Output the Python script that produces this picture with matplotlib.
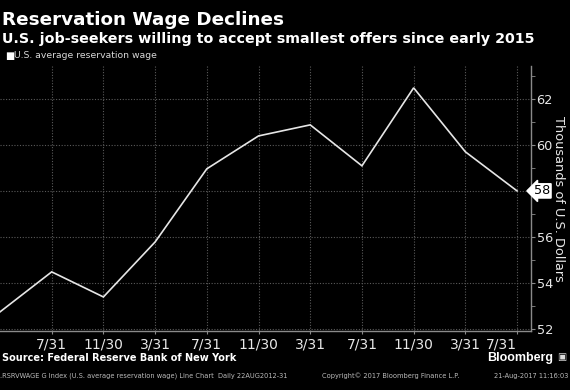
import matplotlib
matplotlib.use('Agg')
import matplotlib.pyplot as plt
from matplotlib.ticker import MultipleLocator, FixedLocator, FuncFormatter
import matplotlib.transforms as mtransforms

plt.rcParams['font.family'] = ['Liberation Sans Narrow', 'DejaVu Sans']

# survey dates (every four months) and reservation wage, thousands of USD
dates = ['2014-03-31', '2014-07-31', '2014-11-30', '2015-03-31', '2015-07-31',
         '2015-11-30', '2016-03-31', '2016-07-31', '2016-11-30', '2017-03-31',
         '2017-07-31']
wage = [52.74, 54.48, 53.39, 55.78, 58.96, 60.39, 60.87, 59.09, 62.48, 59.70, 58.00]
tick_labels = ['7/31', '11/30', '3/31', '7/31', '11/30', '3/31', '7/31', '11/30',
               '3/31', '7/31']

fg = '#e8e8e8'
grey = '#8a8a8a'
last = round(wage[-1])

fig = plt.figure(figsize=(5.7, 3.9), dpi=100, facecolor='black')
ax = fig.add_axes([0, 0.1513, 531 / 570, 0.8308 - 0.1513])
ax.set_facecolor('black')

x = list(range(len(dates)))
ax.plot(x, wage, color='#e6e6e6', lw=1.2, solid_joinstyle='miter')

ax.set_xlim(0, 10.27)
ax.set_ylim(51.91, 63.43)

# x axis
ax.xaxis.set_major_locator(FixedLocator(x[1:]))
ax.set_xticklabels(tick_labels)
for lab in ax.get_xticklabels():
    lab.set_color(fg)
    lab.set_fontsize(10)
ax.get_xticklabels()[-1].set_horizontalalignment('right')
ax.tick_params(axis='x', length=2, color=grey, pad=3)

# y axis on the right (the last value tag takes the place of its tick label)
ax.yaxis.tick_right()
ax.yaxis.set_major_locator(MultipleLocator(2))
ax.yaxis.set_minor_locator(MultipleLocator(1))
ax.yaxis.set_major_formatter(FuncFormatter(lambda v, p: '' if round(v) == last else '%d' % v))
ax.tick_params(axis='y', which='both', direction='out', length=3, color=grey,
               labelcolor=fg, labelsize=9.3, pad=1)
ax.yaxis.set_label_position('right')
ax.set_ylabel('Thousands of U.S. Dollars', rotation=270, color=fg, fontsize=9.3,
              va='center')
ax.yaxis.set_label_coords(1.052, 0.5)

ax.grid(True, which='major', color='#5a5a5a', linestyle=(0, (1, 1.5)), lw=0.8)
for s in ['left', 'top']:
    ax.spines[s].set_visible(False)
for s in ['right', 'bottom']:
    ax.spines[s].set_color(grey)
    ax.spines[s].set_linewidth(1.0)

# last value tag
trans = mtransforms.blended_transform_factory(ax.transAxes, ax.transData)
ax.text(1.006, wage[-1], '%d' % last, transform=trans, ha='left',
        va='center', color='black', fontsize=9.3, zorder=10, clip_on=False,
        bbox=dict(boxstyle='larrow,pad=0.05', fc='white', ec='white'))

# headings
fig.text(2 / 570, 1 - 25 / 390, 'Reservation Wage Declines', color='white',
         fontsize=13.2, fontweight='bold', family='DejaVu Sans', va='baseline')
fig.text(2 / 570, 1 - 43 / 390,
         'U.S. job-seekers willing to accept smallest offers since early 2015',
         color='white', fontsize=10.25, fontweight='bold', family='DejaVu Sans',
         va='baseline')
fig.text(5 / 570, 1 - 56 / 390, '\u25a0', color='white', fontsize=7, va='center',
         family='DejaVu Sans')
fig.text(14 / 570, 1 - 56 / 390, 'U.S. average reservation wage', color='#d8d8d8',
         fontsize=6.7, va='center')

# footer
fig.text(2 / 570, 1 - 361 / 390, 'Source: Federal Reserve Bank of New York',
         color='white', fontsize=7, fontweight='bold', family='DejaVu Sans',
         va='baseline')
fig.text(0, 1 - 376 / 390,
         '.RSRVWAGE G Index (U.S. average reservation wage) Line Chart  Daily 22AUG2012-31',
         color='#bbbbbb', fontsize=4.8, va='center')
fig.text(322 / 570, 1 - 376 / 390, 'Copyright\u00a9 2017 Bloomberg Finance L.P.',
         color='#bbbbbb', fontsize=4.8, va='center')
fig.text(568 / 570, 1 - 376 / 390, '21-Aug-2017 11:16:03', color='#bbbbbb',
         fontsize=4.8, va='center', ha='right')
fig.text(553 / 570, 1 - 361 / 390, 'Bloomberg', color='white', fontsize=9,
         fontweight='bold', family='Liberation Sans', va='baseline', ha='right')
fig.text(566 / 570, 1 - 357 / 390, '\u25a3', color='#dddddd', fontsize=7,
         va='center', ha='right', family='DejaVu Sans')

fig.savefig('out.png', dpi=100, facecolor='black')
